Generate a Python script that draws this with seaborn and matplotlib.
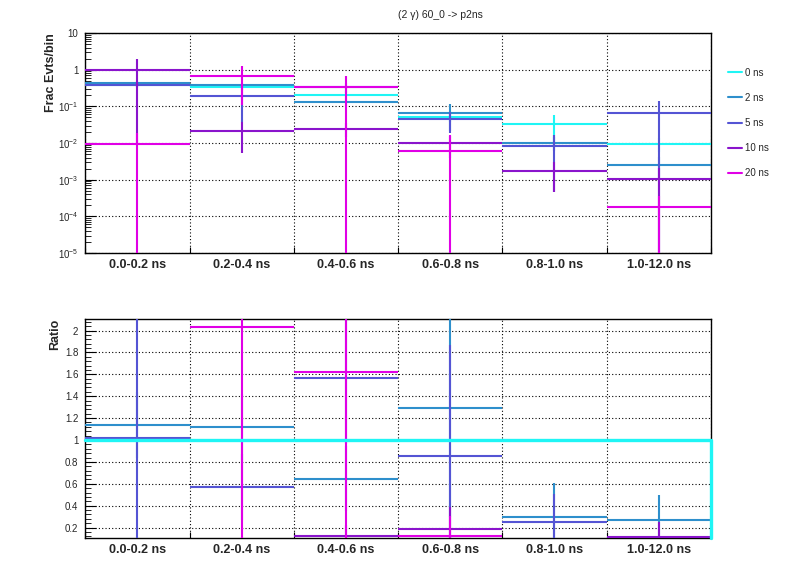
import numpy as np
import pandas as pd
import matplotlib
matplotlib.use("Agg")
import matplotlib.pyplot as plt
from matplotlib.lines import Line2D
from matplotlib.ticker import FixedLocator, NullFormatter, FixedFormatter
import seaborn as sns

# ---------------- data ----------------
bins = ["0.0-0.2 ns", "0.2-0.4 ns", "0.4-0.6 ns", "0.6-0.8 ns", "0.8-1.0 ns", "1.0-12.0 ns"]
series = ["0 ns", "2 ns", "5 ns", "10 ns", "20 ns"]

frac_0ns = [0.38, 0.34, 0.208, 0.052, 0.0337, 0.0096]
frac_2ns = [0.43, 0.38, 0.131, 0.0676, 0.0102, 0.00257]
frac_5ns = [0.39, 0.195, 0.327, 0.0442, 0.00845, 0.0672]
frac_10ns = [0.98, 0.0212, 0.0246, 0.0099, 0.00176, 0.00105]
frac_20ns = [0.0096, 0.685, 0.336, 0.00624, np.nan, 0.000184]

err_0ns = [0.06, 0.06, 0.05, 0.015, 0.0243, 0.004]
err_2ns = [0.05, 0.05, 0.03, 0.046, 0.004, 0.0015]
err_5ns = [0.05, 0.157, 0.10, 0.026, 0.008, 0.073]
err_10ns = [0.97, 0.016, 0.01, 0.006, 0.0013, 0.00105]
err_20ns = [0.0096, 0.575, 0.336, 0.0104, np.nan, 0.000184]

ratio_0ns = [1.0, 1.0, 1.0, 1.0, 1.0, 1.0]
ratio_2ns = [1.14, 1.12, 0.647, 1.295, 0.297, 0.272]
ratio_5ns = [1.02, 0.573, 1.566, 0.857, 0.248, 7.0]
ratio_10ns = [2.58, 0.062, 0.123, 0.19, 0.052, 0.114]
ratio_20ns = [0.025, 2.035, 1.624, 0.123, np.nan, 0.019]

rerr_2ns = [0.3, 0.3, 0.3, 1.0, 0.308, 0.226]
rerr_5ns = [1.6, 0.3, 0.6, 1.01, 0.26, 3.0]
rerr_10ns = [0.3, 0.03, 0.1, 0.2, 0.03, 0.14]
rerr_20ns = [0.02, 2.0, 1.7, 0.18, np.nan, 0.015]

colors = ["#1ff5f5", "#2e8fcc", "#5454d4", "#8a14cc", "#e000e6"]

# ---------------- style ----------------
sns.set_theme(style="white")
plt.rcParams['font.family'] = ['Liberation Sans', 'DejaVu Sans']
plt.rcParams['mathtext.fontset'] = 'custom'
plt.rcParams['mathtext.rm'] = 'Liberation Sans'
plt.rcParams['mathtext.it'] = 'Liberation Sans:italic'
plt.rcParams['mathtext.bf'] = 'Liberation Sans:bold'

fig = plt.figure(figsize=(7.96, 5.72), dpi=100)
ax1 = fig.add_axes([0.1072, 0.5577, 0.7857, 0.3846])
ax2 = fig.add_axes([0.1072, 0.0589, 0.7857, 0.3834])

centers = np.arange(len(bins)) + 0.5
edges = np.arange(len(bins) + 1)
LW = 1.5


def draw(ax, vals, errs, color, lw=LW, log=False):
    v = np.asarray(vals, dtype=float)
    e = np.asarray(errs, dtype=float)
    m = ~np.isnan(v)
    v, e, x = v[m], e[m], centers[m]
    lower = np.minimum(e, v * (1 - 1e-7)) if log else e
    ax.errorbar(x, v, xerr=0.5, yerr=[lower, e], fmt='none',
                ecolor=color, elinewidth=lw, capsize=0, zorder=3)


tops = [frac_0ns, frac_2ns, frac_5ns, frac_10ns, frac_20ns]
terrs = [err_0ns, err_2ns, err_5ns, err_10ns, err_20ns]
for vals, errs, c in zip(tops, terrs, colors):
    draw(ax1, vals, errs, c, log=True)

# ratio panel: reference drawn as a histogram line
xs = list(edges) + [edges[-1]]
ys = ratio_0ns + [ratio_0ns[-1], 0.102]
sns.lineplot(x=xs, y=ys, ax=ax2, color=colors[0], lw=2.4, drawstyle='steps-post',
             sort=False, estimator=None, zorder=5, clip_on=False)
for vals, errs, c in zip([ratio_2ns, ratio_5ns, ratio_10ns, ratio_20ns],
                         [rerr_2ns, rerr_5ns, rerr_10ns, rerr_20ns], colors[1:]):
    draw(ax2, vals, errs, c)

# ---------------- axes ----------------
ax1.set_yscale('log')
ax1.set_ylim(1e-5, 10)
ax2.set_ylim(0.102, 2.105)

for ax in (ax1, ax2):
    ax.set_xlim(0, 6)
    ax.xaxis.set_major_locator(FixedLocator(edges))
    ax.xaxis.set_major_formatter(NullFormatter())
    ax.xaxis.set_minor_locator(FixedLocator(centers))
    ax.xaxis.set_minor_formatter(FixedFormatter(bins))
    ax.tick_params(axis='x', which='major', direction='in', length=4, width=0.8,
                   color='black', bottom=True, top=False)
    ax.tick_params(axis='x', which='minor', length=0, pad=4, labelsize=9)
    for lab in ax.xaxis.get_minorticklabels():
        lab.set_fontweight('bold')
    ax.tick_params(axis='y', which='both', direction='in', left=True, right=False,
                   color='black', labelsize=7, pad=5)
    ax.tick_params(axis='y', which='major', length=8, width=0.8)
    ax.tick_params(axis='y', which='minor', length=4.5, width=0.6)
    ax.grid(True, which='major', color='black', linestyle=(0, (1, 2)), linewidth=0.8)
    for s in ax.spines.values():
        s.set_color('black')
        s.set_linewidth(1.0)
    ax.set_axisbelow(True)

decades = [1e-5, 1e-4, 1e-3, 1e-2, 1e-1, 1, 10]
ax1.yaxis.set_major_locator(FixedLocator(decades))
ax1.yaxis.set_major_formatter(FixedFormatter(
    [r'$10^{-5}$', r'$10^{-4}$', r'$10^{-3}$', r'$10^{-2}$', r'$10^{-1}$', '1', '10']))
minor = [m * d for d in decades[:-1] for m in range(2, 10)]
ax1.yaxis.set_minor_locator(FixedLocator(minor))
ax1.yaxis.set_minor_formatter(NullFormatter())

rt = [0.2, 0.4, 0.6, 0.8, 1.0, 1.2, 1.4, 1.6, 1.8, 2.0]
ax2.yaxis.set_major_locator(FixedLocator(rt))
ax2.yaxis.set_major_formatter(FixedFormatter(
    ['0.2', '0.4', '0.6', '0.8', '1', '1.2', '1.4', '1.6', '1.8', '2']))
ax2.yaxis.set_minor_locator(FixedLocator(np.arange(0.12, 2.1, 0.04)))
ax2.yaxis.set_minor_formatter(NullFormatter())

ax1.set_ylabel('Frac Evts/bin', fontsize=9, fontweight='bold', loc='top')
ax1.yaxis.set_label_coords(-0.045, 1.0)
ax2.set_ylabel('Ratio', fontsize=9, fontweight='bold', loc='top')
ax2.yaxis.set_label_coords(-0.038, 1.0)

fig.text(0.553, 1 - 15 / 572, '(2 γ) 60_0 -> p2ns', ha='center', va='center', fontsize=7.5)

handles = [Line2D([], [], color=c, lw=LW) for c in colors]
fig.legend(handles, series, loc='upper left', bbox_to_anchor=(0.906, 1 - 61 / 572),
           frameon=False, fontsize=7, handlelength=1.4, handletextpad=0.3,
           labelspacing=1.55, borderpad=0.2)

fig.savefig('out.png', dpi=100)
